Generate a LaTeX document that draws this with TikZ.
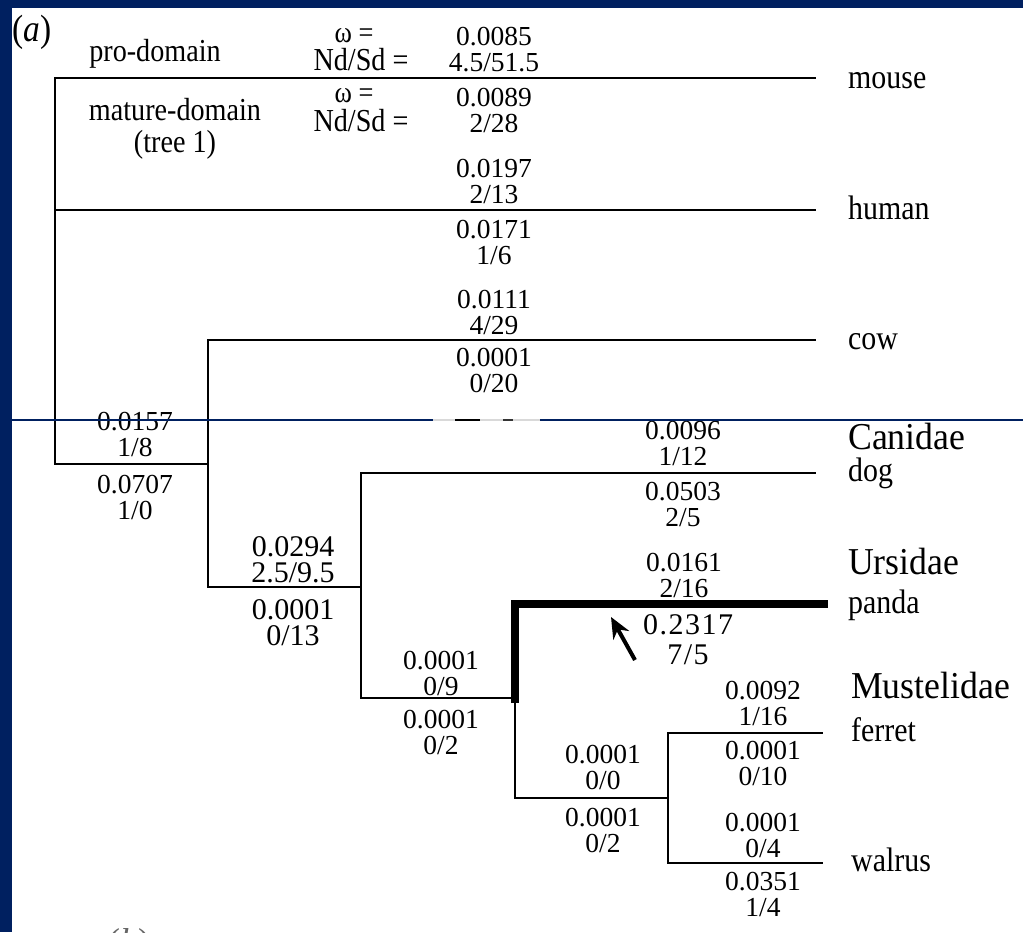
\documentclass[tikz,border=0pt]{standalone}
\usepackage{fontspec}
\setmainfont{Liberation Serif}
\newfontfamily\tallserif[FakeStretch=0.88]{Liberation Serif}
\newfontfamily\famserif[FakeStretch=0.94]{Liberation Serif}
\usetikzlibrary{arrows.meta}
\definecolor{navy}{RGB}{0,32,96}
\begin{document}
\begin{tikzpicture}[x=1pt,y=-1pt,
  branch/.style={line width=2.2pt,line cap=rect},
  hotbranch/.style={line width=8pt},
  rate/.style={inner sep=0pt,align=center,anchor=north,font=\fontsize{27.5}{26}\selectfont},
  ratebig/.style={rate,font=\fontsize{30}{26.5}\selectfont},
  leaf/.style={inner sep=0pt,anchor=base west,font=\tallserif\fontsize{34}{34}\selectfont},
  family/.style={inner sep=0pt,anchor=base west,font=\famserif\fontsize{38}{38}\selectfont},
  head/.style={inner sep=0pt,anchor=base,font=\tallserif\fontsize{32}{32}\selectfont},
  omega/.style={head,font=\tallserif\fontsize{30}{30}\selectfont}]
% page, frame bands
\useasboundingbox (0,0) rectangle (1023,932);
\fill[white] (0,0) rectangle (1023,932);
\fill[navy] (0,0) rectangle (1023,8);
\fill[navy] (0,0) rectangle (12,932);

% panel letter and legend
\node[inner sep=0pt,anchor=base west,font=\tallserif\fontsize{38}{38}\selectfont] (panel) at (12,41) {(\textit{a})};
\node[head] (pro) at (155,61) {pro-domain};
\node[head] (mat) at (175,120) {mature-domain};
\node[head] (tree) at (175,152) {(tree 1)};
\node[omega] (w1) at (354,42) {ω =};
\node[head] (nd1) at (361,70) {Nd/Sd =};
\node[omega] (w2) at (354,102) {ω =};
\node[head] (nd2) at (361,131) {Nd/Sd =};

% tree coordinates
\coordinate (r) at (55,464);
\coordinate (c1) at (208,464);
\coordinate (c2) at (361,587);
\coordinate (c3) at (515,698);
\coordinate (c3t) at (515,703);
\coordinate (c4) at (668,798);
\coordinate (mouseEnd) at (815,78);
\coordinate (humanEnd) at (815,210);
\coordinate (cowEnd) at (815,340);
\coordinate (dogEnd) at (815,473);
\coordinate (pandaEnd) at (828,604);
\coordinate (ferretEnd) at (822,733);
\coordinate (walrusEnd) at (822,863);

% branches
\draw[branch] (r) |- (mouseEnd);
\draw[branch] (r) |- (humanEnd);
\draw[branch] (r) -- (c1);
\draw[branch] (c1) |- (cowEnd);
\draw[branch] (c1) |- (c2);
\draw[branch] (c2) |- (dogEnd);
\draw[branch] (c2) |- (c3);
\draw[branch] (c3) |- (c4);
\draw[hotbranch] (c3t) |- (pandaEnd);
\draw[branch] (c4) |- (ferretEnd);
\draw[branch] (c4) |- (walrusEnd);

% taxa
\node[leaf] (mouse) at (848,88) {mouse};
\node[leaf] (human) at (848,219) {human};
\node[leaf] (cow) at (848,349) {cow};
\node[family] (canidae) at (848,449) {Canidae};
\node[leaf] (dog) at (848,481) {dog};
\node[family] (ursidae) at (848,574) {Ursidae};
\node[leaf] (panda) at (848,613) {panda};
\node[family] (mustelidae) at (851,698) {Mustelidae};
\node[leaf] (ferret) at (851,741) {ferret};
\node[leaf] (walrus) at (851,871) {walrus};

% branch values: omega over Nd/Sd, pro-domain above, mature-domain below
\node[rate] (mouseA) at (494,27) {0.0085\\4.5/51.5};
\node[rate] (mouseB) at (494,88) {0.0089\\2/28};
\node[rate] (humanA) at (494,159) {0.0197\\2/13};
\node[rate] (humanB) at (494,220) {0.0171\\1/6};
\node[rate] (cowA) at (494,290) {0.0111\\4/29};
\node[rate] (cowB) at (494,348) {0.0001\\0/20};
\node[rate] (rootA) at (135,412) {0.0157\\1/8};
\node[rate] (rootB) at (135,475) {0.0707\\1/0};
\node[rate] (dogA) at (683,421) {0.0096\\1/12};
\node[rate] (dogB) at (683,482) {0.0503\\2/5};
\node[ratebig] (c2A) at (293,536) {0.0294\\2.5/9.5};
\node[ratebig] (c2B) at (293,599) {0.0001\\0/13};
\node[rate] (pandaA) at (684,553) {0.0161\\2/16};
\node[rate,font=\fontsize{30}{30}\selectfont\addfontfeatures{LetterSpace=5}] (pandaB) at (688,614) {0.2317\\7/5};
\node[rate] (c3A) at (441,651) {0.0001\\0/9};
\node[rate] (c3B) at (441,710) {0.0001\\0/2};
\node[rate] (ferretA) at (763,681) {0.0092\\1/16};
\node[rate] (ferretB) at (763,741) {0.0001\\0/10};
\node[rate] (c4A) at (603,745) {0.0001\\0/0};
\node[rate] (c4B) at (603,808) {0.0001\\0/2};
\node[rate] (walrusA) at (763,813) {0.0001\\0/4};
\node[rate] (walrusB) at (763,872) {0.0351\\1/4};

% pointer to the panda branch
\coordinate (arrTail) at (635,660);
\coordinate (arrTip) at (611,617);
\draw[line width=4pt,-{Stealth[length=21pt,width=18pt]}] (arrTail) -- (arrTip);

% rule across the page
\coordinate (ruleL) at (12,420);
\coordinate (gapL) at (433,420);
\coordinate (gapR) at (540,420);
\coordinate (ruleR) at (1023,420);
\draw[navy,line width=1.8pt] (ruleL) -- (gapL);
\draw[navy,line width=1.8pt] (gapR) -- (ruleR);
\draw[black!15,line width=1.5pt] (gapL) -- (gapR);
\draw[black,line width=1.8pt] (455,420) -- (480,420);
\draw[black!80,line width=1.5pt] (503,420) -- (513,420);

% next panel letter, cut by the page edge
\begin{scope}
\clip (0,0) rectangle (1023,932);
\node[inner sep=0pt,anchor=base west,font=\fontsize{36}{36}\selectfont,text=black!60] (panelb) at (108,953) {(\textit{b})};
\end{scope}
\end{tikzpicture}
\end{document}
